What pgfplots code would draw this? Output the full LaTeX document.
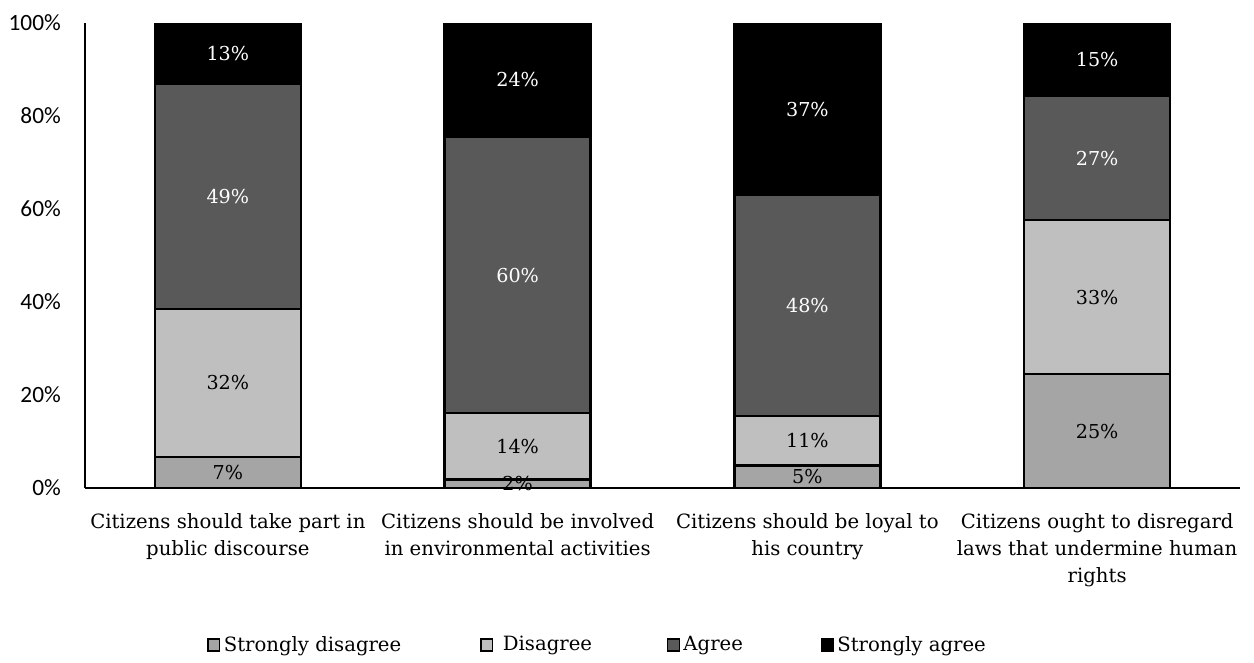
\documentclass[border=0pt]{standalone}
\usepackage{pgfplots}
\pgfplotsset{compat=1.18}
\usepackage{pgfplotstable}
\usepackage{fontspec}
\setmainfont{DejaVu Serif}
\newfontfamily\tickfont{Carlito}
\definecolor{sdcol}{HTML}{A5A5A5}
\definecolor{dcol}{HTML}{BFBFBF}
\definecolor{acol}{HTML}{595959}
\definecolor{sacol}{HTML}{000000}

% segment heights (percent)
\pgfplotstableread{
x y
0 6.7
1 1.9
2 4.9
3 24.5
}\sd
\pgfplotstableread{
x y
0 31.8
1 14.2
2 10.6
3 33.1
}\dis
\pgfplotstableread{
x y
0 48.4
1 59.4
2 47.5
3 26.7
}\agr
\pgfplotstableread{
x y
0 13.1
1 24.5
2 37.0
3 15.7
}\sag
% label positions (segment middles) and label texts
\pgfplotstableread{
x y lab
0 3.35 7
1 0.95 2
2 2.45 5
3 12.25 25
0 22.6 32
1 9.0 14
2 10.2 11
3 41.05 33
}\labdark
\pgfplotstableread{
x y lab
0 62.7 49
1 45.8 60
2 39.25 48
3 70.95 27
0 93.45 13
1 87.75 24
2 81.5 37
3 92.15 15
}\lablight

\begin{document}
\begin{tikzpicture}
\begin{axis}[
  scale only axis,
  width=693pt, height=279pt,
  ybar stacked,
  bar width=87.6pt,
  xmin=-0.493, xmax=3.493,
  ymin=0, ymax=100,
  axis x line*=bottom, axis y line*=left,
  axis line style={line width=1.6pt, -},
  major tick length=0pt,
  ytick={0,20,40,60,80,100},
  yticklabel={\pgfmathprintnumber{\tick}\%},
  /pgf/number format/assume math mode=true,
  yticklabel style={xshift=-11pt, font=\tickfont\fontsize{14pt}{16pt}\selectfont},
  xtick={0,1,2,3},
  xticklabels={Citizens should take part in\\public discourse,
    Citizens should be involved\\in environmental activities,
    Citizens should be loyal to\\his country,
    Citizens ought to disregard\\laws that undermine human\\rights},
  xticklabel style={align=center, font=\fontsize{11.8pt}{16.2pt}\selectfont, yshift=-12pt},
  legend style={draw=none, fill=none, at={(0.1056,-0.3376)}, anchor=west, legend columns=4,
    font=\fontsize{11.8pt}{14pt}\selectfont, inner sep=0pt,
    /tikz/every even column/.append style={column sep=0pt}},
  legend image code/.code={\draw[#1, draw=black, line width=0.9pt] (0pt,-3.5pt) rectangle (7pt,3.5pt);},
]
\addplot[fill=sdcol, draw=black, line width=1.6pt] table[x=x, y=y] {\sd};
\addlegendentry{\makebox[151.8pt][l]{Strongly disagree}}
\addplot[fill=dcol, draw=black, line width=1.6pt] table[x=x, y=y] {\dis};
\addlegendentry{\makebox[100.2pt][l]{\ Disagree}}
\addplot[fill=acol, draw=black, line width=1.6pt] table[x=x, y=y] {\agr};
\addlegendentry{\makebox[80.4pt][l]{Agree}}
\addplot[fill=sacol, draw=black, line width=1.6pt] table[x=x, y=y] {\sag};
\addlegendentry{Strongly agree}
\end{axis}
\begin{axis}[
  scale only axis,
  width=693pt, height=279pt,
  xmin=-0.493, xmax=3.493,
  ymin=0, ymax=100,
  hide axis,
  point meta=explicit symbolic,
  nodes near coords={\pgfplotspointmeta\%},
  every node near coord/.append style={anchor=center, font=\fontsize{11.5pt}{14pt}\selectfont},
]
\addplot[only marks, mark=none, every node near coord/.append style={text=black}]
  table[x=x, y=y, meta=lab] {\labdark};
\addplot[only marks, mark=none, every node near coord/.append style={text=white}]
  table[x=x, y=y, meta=lab] {\lablight};
\end{axis}
\pgfresetboundingbox
\path[use as bounding box] (-51pt,-104.4pt) rectangle (701.4pt,292.8pt);
\end{tikzpicture}
\end{document}
